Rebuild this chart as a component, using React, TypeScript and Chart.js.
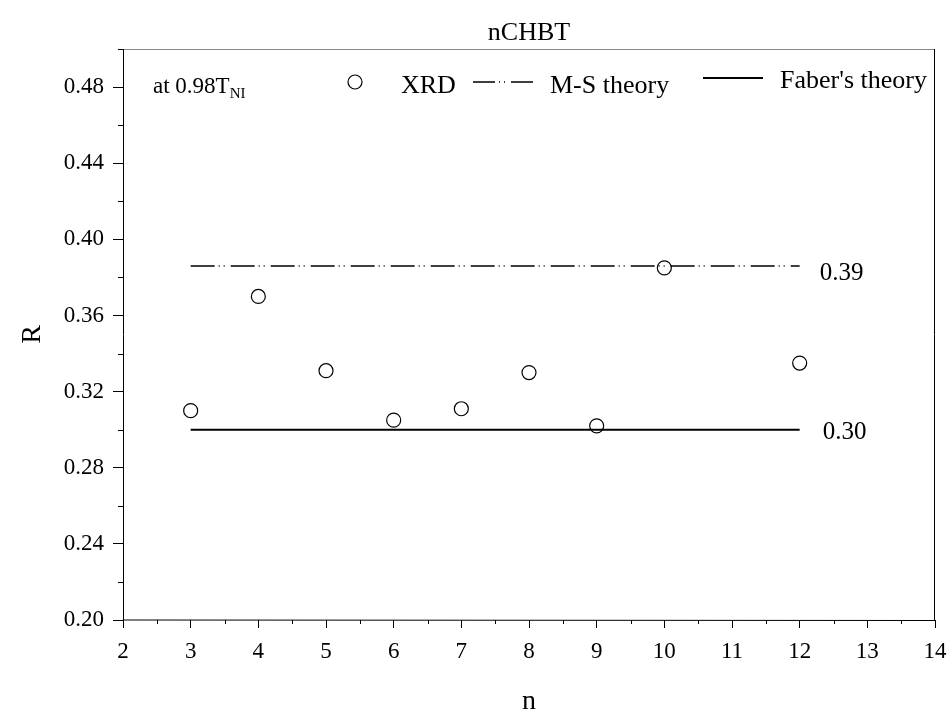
import React, { useEffect, useRef } from "react";
import { Chart, registerables } from "chart.js";

Chart.register(...registerables);

const nValues = [3, 4, 5, 6, 7, 8, 9, 10, 12];
const rXRD = [0.31, 0.37, 0.331, 0.305, 0.311, 0.33, 0.302, 0.385, 0.335];
const lineX = [3, 12];
const msTheory = 0.386;
const faberTheory = 0.3;
const msLabel = "0.39";
const faberLabel = "0.30";
const xTicks = [2, 3, 4, 5, 6, 7, 8, 9, 10, 11, 12, 13, 14];
const yTicks = [0.2, 0.24, 0.28, 0.32, 0.36, 0.4, 0.44, 0.48];

const FONT = "'Liberation Serif', 'Times New Roman', serif";
const MS_DASH = [24, 4, 1, 4, 1, 6];

const decorPlugin = {
  id: "decor",
  afterDraw(chart: any) {
    const { ctx, chartArea: a, scales } = chart;
    const xs = scales.x;
    const ys = scales.y;
    ctx.save();
    // frame
    ctx.lineWidth = 1;
    ctx.strokeStyle = "#888";
    ctx.beginPath();
    ctx.moveTo(a.left, a.top + 0.5);
    ctx.lineTo(a.right, a.top + 0.5);
    ctx.stroke();
    ctx.strokeStyle = "#000";
    ctx.beginPath();
    ctx.moveTo(a.left + 0.5, a.top);
    ctx.lineTo(a.left + 0.5, a.bottom);
    ctx.lineTo(a.right, a.bottom + 0.5);
    ctx.moveTo(a.right - 0.5, a.top);
    ctx.lineTo(a.right - 0.5, a.bottom);
    ctx.stroke();
    // minor ticks
    ctx.beginPath();
    for (let i = 0; i < xTicks.length - 1; i++) {
      const px = Math.round(xs.getPixelForValue(xTicks[i] + 0.5)) + 0.5;
      ctx.moveTo(px, a.bottom);
      ctx.lineTo(px, a.bottom + 4);
    }
    for (let i = 0; i < yTicks.length; i++) {
      const py = Math.round(ys.getPixelForValue(yTicks[i] + 0.02)) + 0.5;
      ctx.moveTo(a.left - 5, py);
      ctx.lineTo(a.left, py);
    }
    ctx.stroke();

    ctx.fillStyle = "#000";
    // value labels
    ctx.font = `25px ${FONT}`;
    ctx.textAlign = "left";
    ctx.textBaseline = "middle";
    ctx.fillText(msLabel, xs.getPixelForValue(12) + 20, ys.getPixelForValue(msTheory) + 7);
    ctx.fillText(faberLabel, xs.getPixelForValue(12) + 23, ys.getPixelForValue(faberTheory) + 3);

    // title
    ctx.textAlign = "center";
    ctx.textBaseline = "alphabetic";
    ctx.font = `26px ${FONT}`;
    ctx.fillText("nCHBT", (a.left + a.right) / 2, 40);
    ctx.font = `28px ${FONT}`;
    ctx.fillText("n", (a.left + a.right) / 2, 709);
    ctx.save();
    ctx.translate(40, (a.top + a.bottom) / 2);
    ctx.rotate(-Math.PI / 2);
    ctx.fillText("R", 0, 0);
    ctx.restore();

    // legend
    ctx.textAlign = "left";
    ctx.font = `23px ${FONT}`;
    ctx.fillText("at 0.98T", 153, 93);
    const w = ctx.measureText("at 0.98T").width;
    ctx.font = `15px ${FONT}`;
    ctx.fillText("NI", 153 + w, 98);

    ctx.lineWidth = 1.2;
    ctx.beginPath();
    ctx.arc(355, 82, 7, 0, Math.PI * 2);
    ctx.stroke();
    ctx.font = `26px ${FONT}`;
    ctx.fillText("XRD", 401, 93);

    ctx.lineWidth = 1.5;
    ctx.setLineDash([22, 4, 1, 4, 1, 6]);
    ctx.beginPath();
    ctx.moveTo(473, 82);
    ctx.lineTo(536, 82);
    ctx.stroke();
    ctx.setLineDash([]);
    ctx.fillText("M-S theory", 550, 93);

    ctx.lineWidth = 2;
    ctx.beginPath();
    ctx.moveTo(703, 78);
    ctx.lineTo(763, 78);
    ctx.stroke();
    ctx.fillText("Faber's theory", 780, 88);
    ctx.restore();
  },
};

export default function App() {
  const ref = useRef<HTMLCanvasElement | null>(null);
  useEffect(() => {
    if (!ref.current) return;
    const chart = new Chart(ref.current, {
      type: "scatter",
      data: {
        datasets: [
          {
            label: "M-S theory",
            data: lineX.map((x) => ({ x, y: msTheory })),
            showLine: true,
            borderColor: "#000",
            borderWidth: 1.5,
            borderDash: MS_DASH,
            pointRadius: 0,
          },
          {
            label: "Faber's theory",
            data: lineX.map((x) => ({ x, y: faberTheory })),
            showLine: true,
            borderColor: "#000",
            borderWidth: 2,
            pointRadius: 0,
          },
          {
            label: "XRD",
            data: nValues.map((x, i) => ({ x, y: rXRD[i] })),
            showLine: false,
            pointRadius: 7,
            pointBorderWidth: 1.2,
            pointBorderColor: "#000",
            pointBackgroundColor: "rgba(255,255,255,0)",
          },
        ],
      },
      options: {
        animation: false,
        responsive: false,
        maintainAspectRatio: false,
        layout: { padding: { top: 49, right: 13, left: 0, bottom: 0 } },
        plugins: { legend: { display: false }, title: { display: false }, tooltip: { enabled: false } },
        scales: {
          x: {
            type: "linear",
            min: 2,
            max: 14,
            afterFit: (s: any) => {
              s.height = 96;
              s.paddingLeft = 0;
              s.paddingRight = 0;
            },
            afterBuildTicks: (s: any) => {
              s.ticks = xTicks.map((v) => ({ value: v }));
            },
            grid: { drawOnChartArea: false, drawTicks: true, tickLength: 8, color: "#000", lineWidth: 1 },
            border: { display: false },
            ticks: {
              color: "#000",
              font: { family: FONT, size: 23 },
              padding: 10,
              maxRotation: 0,
              autoSkip: false,
              callback: (v: any) => String(v),
            },
          },
          y: {
            type: "linear",
            min: 0.2,
            max: 0.5,
            afterFit: (s: any) => {
              s.width = 123;
              s.paddingTop = 0;
              s.paddingBottom = 0;
            },
            afterBuildTicks: (s: any) => {
              s.ticks = yTicks.map((v) => ({ value: v }));
            },
            grid: { drawOnChartArea: false, drawTicks: true, tickLength: 10, color: "#000", lineWidth: 1 },
            border: { display: false },
            ticks: {
              color: "#000",
              font: { family: FONT, size: 23 },
              padding: 9,
              autoSkip: false,
              callback: (v: any) => Number(v).toFixed(2),
            },
          },
        },
      },
      plugins: [decorPlugin],
    });
    return () => chart.destroy();
  }, []);
  return (
    <div style={{ position: "absolute", left: 0, top: 0, width: 948, height: 716, background: "#fff" }}>
      <canvas ref={ref} width={948} height={716} style={{ width: 948, height: 716 }} />
    </div>
  );
}
